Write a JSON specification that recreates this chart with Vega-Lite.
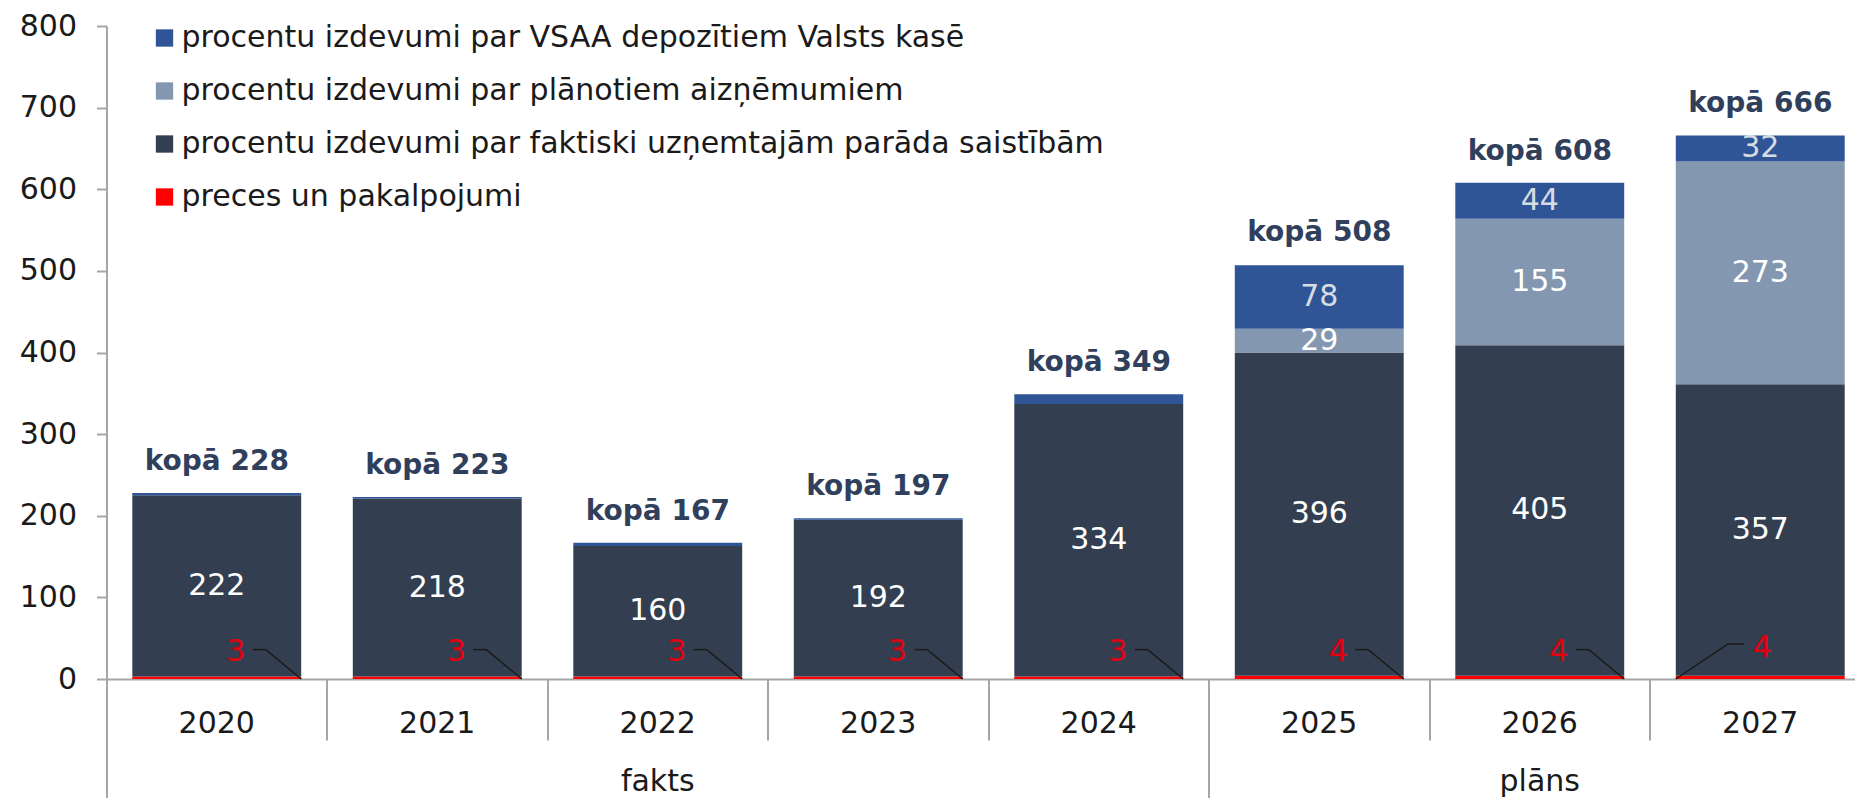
{
  "$schema": "https://vega.github.io/schema/vega-lite/v6.json",
  "width": 1748,
  "height": 653,
  "autosize": {"type": "none"},
  "padding": {"left": 106.5, "top": 26, "right": 0, "bottom": 119},
  "config": {"font": "DejaVu Sans", "view": {"stroke": null}, "axis": {"grid": false}},
  "datasets": {
    "seg": [
      {"year": "2020", "series": "preces un pakalpojumi", "ord": 1, "value": 3},
      {"year": "2020", "series": "procentu izdevumi par faktiski uzņemtajām parāda saistībām", "ord": 2, "value": 222},
      {"year": "2020", "series": "procentu izdevumi par plānotiem aizņēmumiem", "ord": 3, "value": 0},
      {"year": "2020", "series": "procentu izdevumi par VSAA depozītiem Valsts kasē", "ord": 4, "value": 3},
      {"year": "2021", "series": "preces un pakalpojumi", "ord": 1, "value": 3},
      {"year": "2021", "series": "procentu izdevumi par faktiski uzņemtajām parāda saistībām", "ord": 2, "value": 218},
      {"year": "2021", "series": "procentu izdevumi par plānotiem aizņēmumiem", "ord": 3, "value": 0},
      {"year": "2021", "series": "procentu izdevumi par VSAA depozītiem Valsts kasē", "ord": 4, "value": 2},
      {"year": "2022", "series": "preces un pakalpojumi", "ord": 1, "value": 3},
      {"year": "2022", "series": "procentu izdevumi par faktiski uzņemtajām parāda saistībām", "ord": 2, "value": 160},
      {"year": "2022", "series": "procentu izdevumi par plānotiem aizņēmumiem", "ord": 3, "value": 0},
      {"year": "2022", "series": "procentu izdevumi par VSAA depozītiem Valsts kasē", "ord": 4, "value": 4},
      {"year": "2023", "series": "preces un pakalpojumi", "ord": 1, "value": 3},
      {"year": "2023", "series": "procentu izdevumi par faktiski uzņemtajām parāda saistībām", "ord": 2, "value": 192},
      {"year": "2023", "series": "procentu izdevumi par plānotiem aizņēmumiem", "ord": 3, "value": 0},
      {"year": "2023", "series": "procentu izdevumi par VSAA depozītiem Valsts kasē", "ord": 4, "value": 2},
      {"year": "2024", "series": "preces un pakalpojumi", "ord": 1, "value": 3},
      {"year": "2024", "series": "procentu izdevumi par faktiski uzņemtajām parāda saistībām", "ord": 2, "value": 334},
      {"year": "2024", "series": "procentu izdevumi par plānotiem aizņēmumiem", "ord": 3, "value": 0},
      {"year": "2024", "series": "procentu izdevumi par VSAA depozītiem Valsts kasē", "ord": 4, "value": 12},
      {"year": "2025", "series": "preces un pakalpojumi", "ord": 1, "value": 4},
      {"year": "2025", "series": "procentu izdevumi par faktiski uzņemtajām parāda saistībām", "ord": 2, "value": 396},
      {"year": "2025", "series": "procentu izdevumi par plānotiem aizņēmumiem", "ord": 3, "value": 29},
      {"year": "2025", "series": "procentu izdevumi par VSAA depozītiem Valsts kasē", "ord": 4, "value": 78},
      {"year": "2026", "series": "preces un pakalpojumi", "ord": 1, "value": 4},
      {"year": "2026", "series": "procentu izdevumi par faktiski uzņemtajām parāda saistībām", "ord": 2, "value": 405},
      {"year": "2026", "series": "procentu izdevumi par plānotiem aizņēmumiem", "ord": 3, "value": 155},
      {"year": "2026", "series": "procentu izdevumi par VSAA depozītiem Valsts kasē", "ord": 4, "value": 44},
      {"year": "2027", "series": "preces un pakalpojumi", "ord": 1, "value": 4},
      {"year": "2027", "series": "procentu izdevumi par faktiski uzņemtajām parāda saistībām", "ord": 2, "value": 357},
      {"year": "2027", "series": "procentu izdevumi par plānotiem aizņēmumiem", "ord": 3, "value": 273},
      {"year": "2027", "series": "procentu izdevumi par VSAA depozītiem Valsts kasē", "ord": 4, "value": 32}
    ],
    "tot": [
      {"year": "2020", "total": 228, "label": "kopā 228"},
      {"year": "2021", "total": 223, "label": "kopā 223"},
      {"year": "2022", "total": 167, "label": "kopā 167"},
      {"year": "2023", "total": 197, "label": "kopā 197"},
      {"year": "2024", "total": 349, "label": "kopā 349"},
      {"year": "2025", "total": 508, "label": "kopā 508"},
      {"year": "2026", "total": 608, "label": "kopā 608"},
      {"year": "2027", "total": 666, "label": "kopā 666"}
    ]
  },
  "resolve": {"axis": {"x": "independent", "y": "independent"}},
  "layer": [
    {
      "data": {"name": "seg"},
      "mark": {"type": "bar"},
      "encoding": {
        "x": {
          "field": "year", "type": "nominal",
          "scale": {"range": [0, 1764], "paddingInner": 0.234, "paddingOuter": 0.117},
          "axis": {
            "orient": "bottom", "title": null, "labelAngle": 0,
            "labelFontSize": 30, "labelColor": "#1a1a1a",
            "ticks": false, "domainColor": "#A6A6A6", "domainWidth": 2, "labelPadding": 29
          }
        },
        "y": {
          "field": "value", "type": "quantitative", "stack": "zero",
          "scale": {"domain": [0, 800], "nice": false},
          "axis": {
            "orient": "left", "title": null, "values": [0, 100, 200, 300, 400, 500, 600, 700, 800],
            "labelFontSize": 30, "labelColor": "#1a1a1a", "labelPadding": 20,
            "tickSize": 10, "tickColor": "#A6A6A6", "tickWidth": 2,
            "domainColor": "#A6A6A6", "domainWidth": 2
          }
        },
        "color": {
          "field": "series", "type": "nominal",
          "scale": {
            "domain": [
              "procentu izdevumi par VSAA depozītiem Valsts kasē",
              "procentu izdevumi par plānotiem aizņēmumiem",
              "procentu izdevumi par faktiski uzņemtajām parāda saistībām",
              "preces un pakalpojumi"
            ],
            "range": ["#2F5597", "#8497B0", "#333F50", "#FF0000"]
          },
          "legend": {
            "orient": "none", "legendX": 43, "legendY": -3, "title": null,
            "symbolType": "square", "symbolSize": 300, "symbolStrokeWidth": 0,
            "labelFontSize": 30, "labelColor": "#1a1a1a", "labelLimit": 0,
            "rowPadding": 23, "labelOffset": 2, "padding": 0
          }
        },
        "order": {"field": "ord", "type": "quantitative"}
      }
    },
    {
      "data": {"name": "tot"},
      "mark": {"type": "text", "fontSize": 28, "fontWeight": "bold", "color": "#2F3F5C", "baseline": "middle", "dy": -31},
      "encoding": {
        "x": {
          "field": "year", "type": "nominal",
          "axis": {
            "orient": "bottom", "title": null, "values": ["2020", "2025"],
            "bandPosition": 0, "tickOffset": -25.8, "tickSize": 125,
            "tickColor": "#A6A6A6", "tickWidth": 2, "labels": false, "domain": false
          }
        },
        "y": {"field": "total", "type": "quantitative", "axis": null},
        "text": {"field": "label", "type": "nominal"}
      }
    },
    {
      "data": {"name": "seg"},
      "mark": {"type": "text", "fontSize": 30, "baseline": "middle"},
      "encoding": {
        "x": {
          "field": "year", "type": "nominal",
          "axis": {
            "orient": "bottom", "title": null, "values": ["2022", "2026"],
            "labelExpr": "datum.value == '2022' ? 'fakts' : 'plāns'",
            "ticks": false, "domain": false, "labelPadding": 87,
            "labelFontSize": 30, "labelColor": "#1a1a1a", "labelAngle": 0
          }
        },
        "y": {"field": "value", "type": "quantitative", "stack": "zero", "bandPosition": 0.5, "axis": null},
        "detail": {"field": "series"},
        "order": {"field": "ord", "type": "quantitative"},
        "text": {"condition": {"test": "datum.value < 20 || datum.ord == 1", "value": ""}, "field": "value", "type": "quantitative"},
        "color": {"condition": {"test": "datum.ord == 4", "value": "#D6DCE4"}, "value": "#FFFFFF"}
      }
    },
    {
      "data": {"name": "seg"},
      "transform": [{"filter": "datum.ord == 1 && datum.year != '2027'"}],
      "mark": {"type": "text", "fontSize": 30, "color": "#E3000F", "baseline": "middle", "dx": 19},
      "encoding": {
        "x": {
          "field": "year", "type": "nominal",
          "axis": {
            "orient": "bottom", "title": null, "values": ["2021", "2022", "2023", "2024", "2025", "2026", "2027"],
            "bandPosition": 0, "tickOffset": -25.8, "tickSize": 61,
            "tickColor": "#A6A6A6", "tickWidth": 2, "labels": false, "domain": false
          }
        },
        "y": {"datum": 33, "axis": null},
        "text": {"field": "value", "type": "quantitative"}
      }
    },
    {
      "data": {"name": "seg"},
      "transform": [{"filter": "datum.ord == 1 && datum.year == '2027'"}],
      "mark": {"type": "text", "fontSize": 30, "color": "#E3000F", "baseline": "middle", "dx": 2},
      "encoding": {
        "x": {"field": "year", "type": "nominal", "axis": null},
        "y": {"datum": 38, "axis": null},
        "text": {"field": "value", "type": "quantitative"}
      }
    },
    {
      "data": {"name": "seg"},
      "transform": [{"filter": "datum.ord == 1 && datum.year != '2027'"}],
      "mark": {"type": "rule", "color": "#1a1a1a", "strokeWidth": 1.5, "xOffset": 36, "x2Offset": 49},
      "encoding": {
        "x": {"field": "year", "type": "nominal", "axis": null},
        "x2": {"field": "year"},
        "y": {"datum": 36, "axis": null}
      }
    },
    {
      "data": {"name": "seg"},
      "transform": [{"filter": "datum.ord == 1 && datum.year != '2027'"}],
      "mark": {"type": "rule", "color": "#1a1a1a", "strokeWidth": 1.5, "xOffset": 49, "x2Offset": 84.5},
      "encoding": {
        "x": {"field": "year", "type": "nominal", "axis": null},
        "x2": {"field": "year"},
        "y": {"datum": 36, "axis": null},
        "y2": {"datum": 0}
      }
    },
    {
      "data": {"name": "seg"},
      "transform": [{"filter": "datum.ord == 1 && datum.year == '2027'"}],
      "mark": {"type": "rule", "color": "#1a1a1a", "strokeWidth": 1.5, "xOffset": -32, "x2Offset": -16},
      "encoding": {
        "x": {"field": "year", "type": "nominal", "axis": null},
        "x2": {"field": "year"},
        "y": {"datum": 43, "axis": null}
      }
    },
    {
      "data": {"name": "seg"},
      "transform": [{"filter": "datum.ord == 1 && datum.year == '2027'"}],
      "mark": {"type": "rule", "color": "#1a1a1a", "strokeWidth": 1.5, "xOffset": -32, "x2Offset": -84.5},
      "encoding": {
        "x": {"field": "year", "type": "nominal", "axis": null},
        "x2": {"field": "year"},
        "y": {"datum": 43, "axis": null},
        "y2": {"datum": 0}
      }
    }
  ]
}
